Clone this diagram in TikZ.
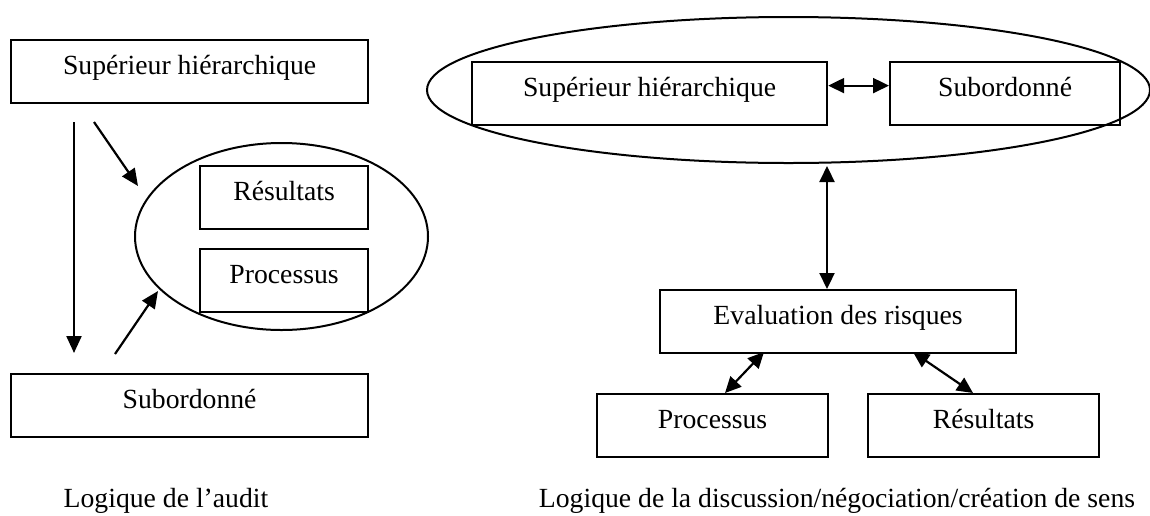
\documentclass[tikz,border=0pt]{standalone}
\usepackage{fontspec}
\setmainfont{Liberation Serif}
\usetikzlibrary{arrows.meta,shapes.geometric}
\begin{document}
\begin{tikzpicture}[x=1pt,y=-1pt,
  txt/.style={font=\fontsize{27.7}{33}\selectfont},
  box/.style={txt,draw,line width=2.2pt,inner sep=0pt,text height=34pt,text depth=29pt,anchor=north west},
  ring/.style={draw,line width=2pt,ellipse,inner sep=0pt},
  arr/.style={line width=2.2pt,-{Triangle[length=17pt,width=15pt]}},
  darr/.style={line width=2.2pt,{Triangle[length=16pt,width=15pt]}-{Triangle[length=16pt,width=15pt]}}]
\useasboundingbox (0,0) rectangle (1150,515);
% ---------- left: audit ----------
\node[ring,minimum width=293pt,minimum height=187pt] (ellA) at (281.5,236.5) {};
\node[box,minimum width=357pt] (supA) at (10,39) {Supérieur hiérarchique};
\node[box,minimum width=168pt] (resA) at (199,165) {Résultats};
\node[box,minimum width=168pt] (proA) at (199,248) {Processus};
\node[box,minimum width=357pt] (subA) at (10,373) {Subordonné};
\coordinate (d1) at (74,122);
\coordinate (d2) at (74,353);
\coordinate (g1) at (94,122);
\coordinate (g2) at (138,186);
\coordinate (u1) at (115,354);
\coordinate (u2) at (158,291);
\draw[arr] (d1) -- (d2);
\draw[arr] (g1) -- (g2);
\draw[arr] (u1) -- (u2);
\node[txt,anchor=base] (capA) at (166,507) {Logique de l’audit};
% ---------- right: discussion ----------
\node[ring,minimum width=723pt,minimum height=146pt] (ellB) at (788.5,90) {};
\node[box,minimum width=355pt] (supB) at (471,61) {Supérieur hiérarchique};
\node[box,minimum width=230pt] (subB) at (889,61) {Subordonné};
\node[box,minimum width=356pt] (evaB) at (659,289) {Evaluation des risques};
\node[box,minimum width=231pt] (proB) at (596,393) {Processus};
\node[box,minimum width=231pt] (resB) at (867,393) {Résultats};
\draw[darr] ([yshift=8pt]supB.east) -- ([yshift=8pt]subB.west);
\coordinate (v1) at (827,166);
\draw[darr] (v1) -- (v1 |- evaB.north);
\coordinate (p1) at (725,393);
\coordinate (p2) at (764,352);
\coordinate (r1) at (913,352);
\coordinate (r2) at (973,393);
\draw[darr] (p1) -- (p2);
\draw[darr] (r1) -- (r2);
\node[txt,anchor=base] (capB) at (837,507) {Logique de la discussion/négociation/création de sens};
\end{tikzpicture}
\end{document}
